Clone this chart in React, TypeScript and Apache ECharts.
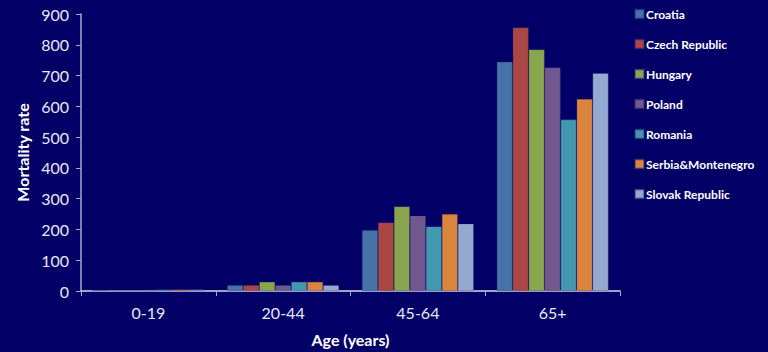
import React, { useEffect, useRef } from "react";
import * as echarts from "echarts";

const ageGroups = ["0-19", "20-44", "45-64", "65+"];

const countries = [
  "Croatia",
  "Czech Republic",
  "Hungary",
  "Poland",
  "Romania",
  "Serbia&Montenegro",
  "Slovak Republic",
];

const croatia = [4, 19, 198, 745];
const czechRepublic = [2, 19, 223, 856];
const hungary = [2, 30, 275, 785];
const poland = [1, 19, 245, 726];
const romania = [5, 30, 210, 557];
const serbiaMontenegro = [5, 30, 250, 624];
const slovakRepublic = [5, 19, 219, 708];

const seriesValues = [
  croatia,
  czechRepublic,
  hungary,
  poland,
  romania,
  serbiaMontenegro,
  slovakRepublic,
];

const palette = [
  "#4572A7",
  "#AA4643",
  "#89A54E",
  "#71588F",
  "#4198AF",
  "#DB843D",
  "#93A9CF",
];

const FONT = "Lato, 'Open Sans', sans-serif";

export default function App() {
  const ref = useRef<HTMLDivElement>(null);

  useEffect(() => {
    if (!ref.current) return;
    const chart = echarts.init(ref.current, undefined, { renderer: "svg" });
    chart.setOption({
      animation: false,
      backgroundColor: "#020066",
      textStyle: { fontFamily: FONT },
      legend: {
        orient: "vertical",
        left: 629,
        top: 3,
        itemWidth: 9,
        itemHeight: 9,
        itemGap: 18,
        icon: "rect",
        textStyle: {
          color: "#FFFFFF",
          fontSize: 12,
          fontWeight: "bold",
          fontFamily: FONT,
          padding: [0, 0, 0, -3],
        },
        data: countries,
      },
      grid: { left: 81, right: 148, top: 14, bottom: 60 },
      xAxis: {
        type: "category",
        data: ageGroups,
        name: "Age (years)",
        nameLocation: "middle",
        nameGap: 40,
        nameTextStyle: {
          color: "#FFFFFF",
          fontSize: 16,
          fontWeight: "bold",
          fontFamily: FONT,
        },
        axisLine: { lineStyle: { color: "#D8D8E8", width: 1.5 } },
        axisTick: { show: true, length: 5, lineStyle: { color: "#A8A8C8" } },
        axisLabel: { color: "#E8E8F4", fontSize: 16, margin: 13 },
      },
      yAxis: {
        type: "value",
        min: 0,
        max: 900,
        interval: 100,
        name: "Mortality rate",
        nameLocation: "middle",
        nameGap: 50,
        nameTextStyle: {
          color: "#FFFFFF",
          fontSize: 16,
          fontWeight: "bold",
          fontFamily: FONT,
        },
        axisLine: { show: true, lineStyle: { color: "#A8A8C8", width: 1.5 } },
        axisTick: { show: true, length: 5, lineStyle: { color: "#A8A8C8" } },
        splitLine: { show: false },
        axisLabel: { color: "#E8E8F4", fontSize: 16, margin: 12 },
      },
      series: countries.map((name, i) => ({
        name,
        type: "bar",
        data: seriesValues[i],
        barGap: "0%",
        barCategoryGap: "17%",
        itemStyle: {
          color: palette[i],
          borderColor: "rgba(40,40,110,0.45)",
          borderWidth: 0.6,
        },
      })),
    });
    return () => chart.dispose();
  }, []);

  return (
    <div
      ref={ref}
      style={{ position: "fixed", left: 0, top: 0, width: 768, height: 352 }}
    />
  );
}
